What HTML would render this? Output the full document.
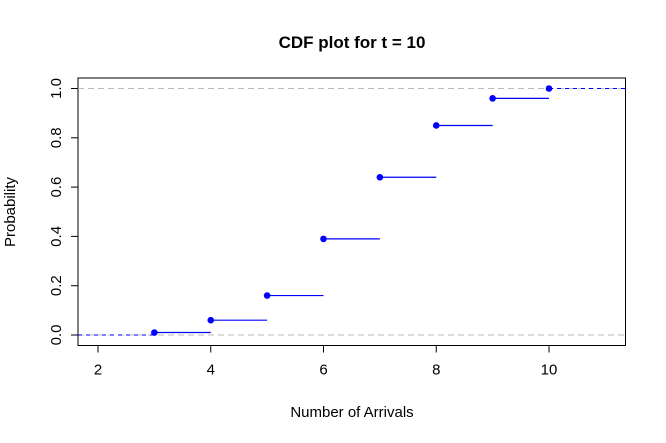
<!DOCTYPE html>
<html><head><meta charset="utf-8"><style>
body{margin:0;background:#fff}
svg{display:block;font-family:"Liberation Sans",Arial,sans-serif}
</style></head><body>
<svg id="c" width="666" height="443">
<text x="352" y="48" text-anchor="middle" font-size="17" font-weight="bold">CDF plot for t = 10</text>
<text x="352" y="417" text-anchor="middle" font-size="15">Number of Arrivals</text>
<text transform="translate(15,212) rotate(-90)" text-anchor="middle" font-size="15">Probability</text>
<rect x="78" y="78" width="547.5" height="267.5" fill="none" stroke="#000" stroke-width="1"/>
<g id="g"></g>
</svg>
<script>
const xs=[3,4,5,6,7,8,9,10];
const probs=[0.01,0.06,0.16,0.39,0.64,0.85,0.96,1.0];
const xTicks=[2,4,6,8,10];
const yTicks=[0,0.2,0.4,0.6,0.8,1.0];
const X=v=>98+(v-2)*56.375, Y=v=>335-v*246.5;
const L=78,R=625.5,B=345.5;
const g=document.getElementById('g'),NS='http://www.w3.org/2000/svg';
function mk(t,a){const e=document.createElementNS(NS,t);for(const k in a)e.setAttribute(k,a[k]);g.appendChild(e);return e;}
[0,1].forEach(v=>{const e=mk('line',{x1:L,x2:R,y1:Y(v),y2:Y(v),stroke:'#bbb','stroke-dasharray':'6,4'});

});
xTicks.forEach(v=>{const e=mk('line',{x1:X(v),x2:X(v),y1:B,y2:B+7,stroke:'#000'});


const t=mk('text',{x:X(v),y:B+29,'text-anchor':'middle','font-size':15});t.textContent=v;

});
yTicks.forEach(v=>{const e=mk('line',{x1:L-7,x2:L,y1:Y(v),y2:Y(v),stroke:'#000'});


const t=mk('text',{transform:`translate(${L-17},${Y(v)}) rotate(-90)`,'text-anchor':'middle','font-size':15});t.textContent=v.toFixed(1);

});
let e=mk('line',{x1:L,x2:X(xs[0]),y1:Y(0),y2:Y(0),stroke:'#00f','stroke-dasharray':'4,4'});


e=mk('line',{x1:X(xs[xs.length-1]),x2:R,y1:Y(probs[probs.length-1]),y2:Y(probs[probs.length-1]),stroke:'#00f','stroke-dasharray':'4,4'});


xs.forEach((x,i)=>{
 if(i<xs.length-1){const s=mk('line',{x1:X(x),x2:X(xs[i+1]),y1:Y(probs[i]),y2:Y(probs[i]),stroke:'#00f','stroke-width':1.2});
 
 }
 const c=mk('circle',{cx:X(x),cy:Y(probs[i]),r:3.3,fill:'#00f'});
 
 
});
</script>
</body></html>
